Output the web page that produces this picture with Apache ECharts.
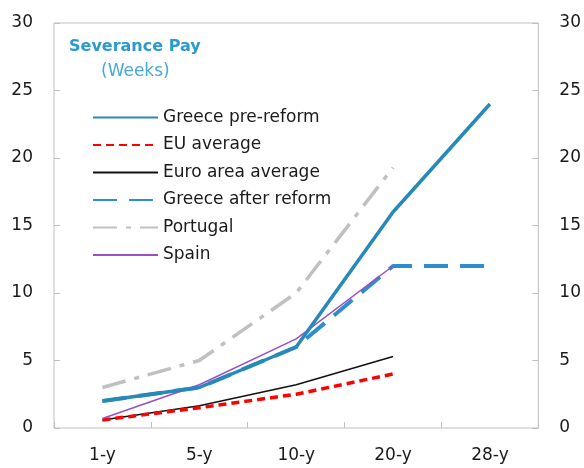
<!DOCTYPE html>
<html>
<head>
<meta charset="utf-8">
<script src="https://cdn.jsdelivr.net/npm/echarts@6/dist/echarts.min.js"></script>
<style>
  html, body { margin: 0; padding: 0; background: #fff; }
  #chart { width: 584px; height: 468px; }
</style>
</head>
<body>
<div id="chart"></div>
<script>
  // tenure categories
  let categories = ['1-y', '5-y', '10-y', '20-y', '28-y'];
  // severance pay in weeks
  let greecePre = [2, 3, 6, 16, 24];
  let euAverage = [0.6, 1.5, 2.5, 4, null];
  let euroArea = [0.6, 1.65, 3.2, 5.3, null];
  let greeceAfter = [2, 3, 6, 12, 12];
  let portugal = [3, 5, 10, 19.3, null];
  let spain = [0.7, 3.2, 6.6, 12, null];

  let font = 'DejaVu Sans';
  let tickGrey = '#bfbfbf';
  let textCol = '#1a1a1a';

  let myChart = echarts.init(document.getElementById('chart'));

  let yAxisBase = {
    type: 'value',
    min: 0,
    max: 30,
    interval: 5,
    splitLine: {show: false},
    axisLine: {show: false},
    axisTick: {show: true, inside: true, length: 6, lineStyle: {color: tickGrey}},
    axisLabel: {color: textCol, fontFamily: font, fontSize: 17, margin: 21}
  };

  function line(name, data, color, width, type) {
    return {
      name: name,
      type: 'line',
      data: data,
      symbol: 'none',
      connectNulls: false,
      lineStyle: {color: color, width: width, type: type},
      itemStyle: {color: color}
    };
  }

  myChart.setOption({
    backgroundColor: '#ffffff',
    animation: false,
    title: [
      {
        text: 'Severance Pay',
        left: 64,
        top: 34,
        textStyle: {color: '#2a9ad0', fontFamily: font, fontSize: 16, fontWeight: 'bold'}
      },
      {
        text: '(Weeks)',
        left: 96,
        top: 58,
        textStyle: {color: '#4aa8d8', fontFamily: font, fontSize: 17, fontWeight: 'normal'}
      }
    ],
    legend: {
      orient: 'vertical',
      left: 87,
      top: 104,
      itemWidth: 65,
      itemHeight: 20,
      itemGap: 10.5,
      itemStyle: {opacity: 0},
      textStyle: {color: textCol, fontFamily: font, fontSize: 17},
      data: ['Greece pre-reform', 'EU average', 'Euro area average', 'Greece after reform', 'Portugal', 'Spain']
    },
    grid: {left: 54, right: 43, top: 23, bottom: 40, show: true, borderColor: tickGrey, borderWidth: 1},
    xAxis: {
      type: 'category',
      data: categories,
      boundaryGap: true,
      axisLine: {show: false},
      axisTick: {show: true, inside: true, length: 6, lineStyle: {color: tickGrey}},
      axisLabel: {color: textCol, fontFamily: font, fontSize: 17, margin: 19}
    },
    yAxis: [
      Object.assign({}, yAxisBase, {position: 'left'}),
      Object.assign({}, yAxisBase, {position: 'right'})
    ],
    series: [
      line('Portugal', portugal, '#c0c0c0', 3.5, [24, 9, 5, 9]),
      line('Euro area average', euroArea, '#111111', 1.5, 'solid'),
      line('EU average', euAverage, '#ff0000', 3.5, [8, 5]),
      line('Greece after reform', greeceAfter, '#2e8ecb', 4, [24, 12]),
      line('Spain', spain, '#9a4fc4', 1.5, 'solid'),
      line('Greece pre-reform', greecePre, '#2689b8', 3.5, 'solid')
    ]
  });
</script>
</body>
</html>
